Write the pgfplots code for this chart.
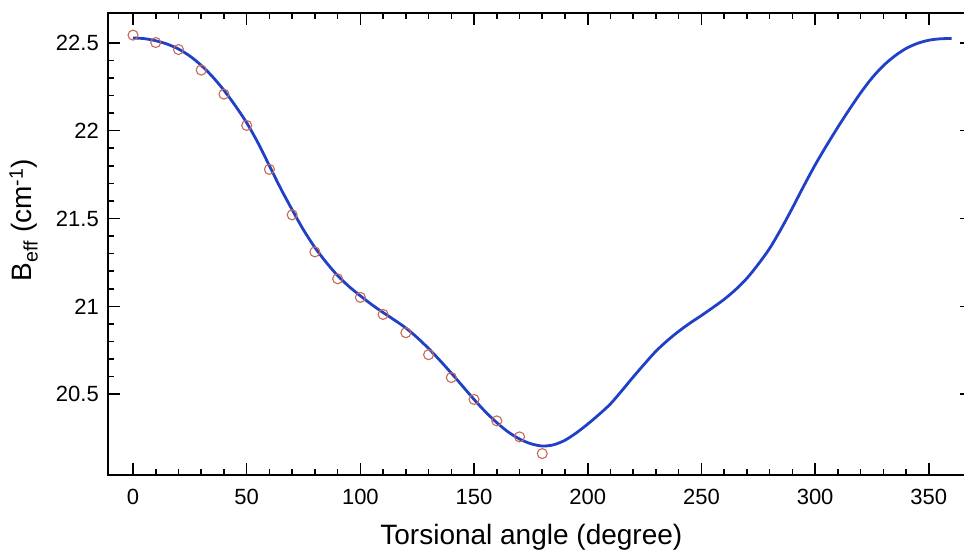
\documentclass[border=0pt]{standalone}
\usepackage{fontspec}
\setmainfont{Liberation Sans}
\usepackage{pgfplots}
\pgfplotsset{compat=1.18}
\definecolor{curveblue}{RGB}{32,64,200}
\definecolor{circred}{RGB}{200,105,85}
\begin{document}
\begin{tikzpicture}
\begin{axis}[
  scale only axis,
  width=864pt, height=462pt,
  xmin=-11, xmax=369,
  ymin=20.04, ymax=22.67,
  xtick={0,50,...,350},
  minor x tick num=4,
  ytick={20.5,21,21.5,22,22.5},
  minor y tick num=4,
  tick align=inside,
  axis line style={line width=2pt},
  every tick/.style={black, line width=1.6pt},
  major tick length=12pt,
  minor tick length=6pt,
  /pgf/number format/assume math mode=true,
  ticklabel style={font=\fontsize{22}{24}\selectfont, inner sep=0pt},
  xticklabel shift=14pt,
  yticklabel shift=9pt,
  xlabel={Torsional angle (degree)},
  ylabel={B\textsubscript{eff} (cm\textsuperscript{-1})},
  label style={font=\fontsize{28}{32}\selectfont},
  xlabel style={at={(axis description cs:0.49,-0.1515)}, anchor=base},
  ylabel style={at={(axis description cs:-0.088,0.552)}, anchor=base, rotate=0},
  clip=false,
]
\addplot[curveblue, line width=2.8pt, smooth, tension=0.5] coordinates {
(0,22.528) (5,22.524) (10,22.512) (15,22.493) (20,22.465) (25,22.425)
(30,22.372) (35,22.307) (40,22.23) (45,22.142) (50,22.045) (55,21.93)
(60,21.80) (65,21.67) (70,21.55) (75,21.435) (80,21.335) (85,21.25)
(90,21.175) (95,21.113) (100,21.06) (105,21.01) (110,20.965) (115,20.922)
(120,20.877) (125,20.822) (130,20.76) (135,20.692) (140,20.62) (145,20.545)
(150,20.47) (155,20.4) (160,20.338) (165,20.285) (170,20.245) (175,20.218)
(180,20.205) (185,20.212) (190,20.238) (195,20.28) (200,20.33) (205,20.385)
(210,20.445) (215,20.52) (220,20.598) (225,20.673) (230,20.745) (235,20.805)
(240,20.858) (245,20.905) (250,20.948) (255,20.993) (260,21.04) (265,21.095)
(270,21.16) (275,21.24) (280,21.33) (285,21.44) (290,21.56) (295,21.685)
(300,21.805) (305,21.915) (310,22.02) (315,22.12) (320,22.215) (325,22.3)
(330,22.37) (335,22.425) (340,22.468) (345,22.497) (350,22.515) (355,22.523)
(360,22.525)
};
\addplot[only marks, mark=o, mark size=5pt, mark options={circred, line width=1.1pt}] coordinates {
(0,22.544) (10,22.502) (20,22.462) (30,22.345) (40,22.208) (50,22.030)
(60,21.78) (70,21.521) (80,21.31) (90,21.157) (100,21.051) (110,20.954)
(120,20.85) (130,20.725) (140,20.595) (150,20.470) (160,20.348) (170,20.257)
(180,20.162)
};
\end{axis}
\pgfresetboundingbox
\path[use as bounding box] ([shift={(-108pt,-77pt)}]current axis.south west) rectangle ([shift={(856pt,475pt)}]current axis.south west);
\end{tikzpicture}
\end{document}
